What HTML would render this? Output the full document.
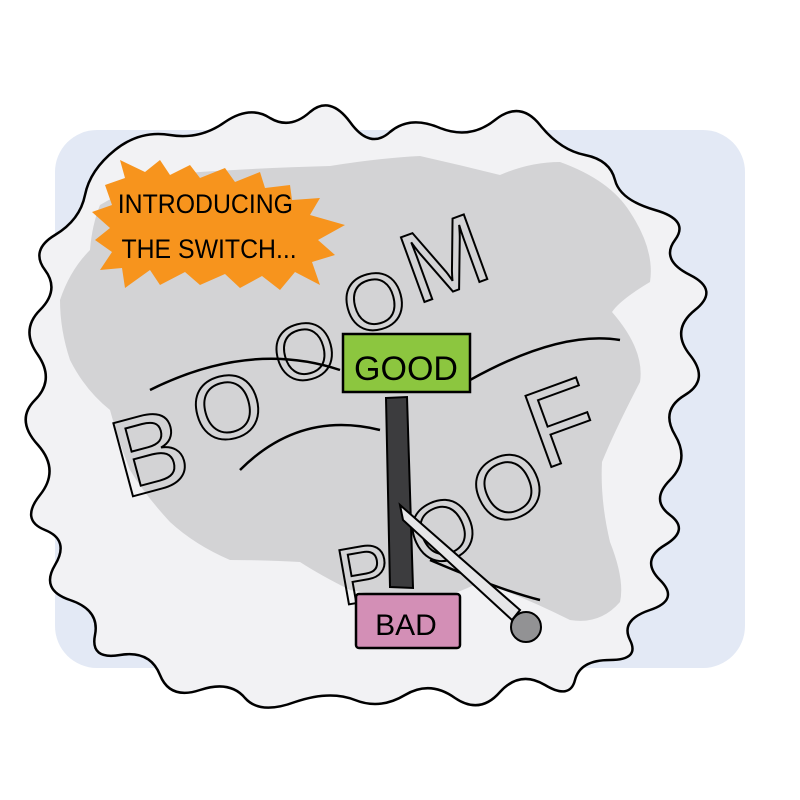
<!DOCTYPE html>
<html><head><meta charset="utf-8"><style>body{margin:0;background:#fff}svg{display:block}</style></head><body>
<svg width="800" height="800" viewBox="0 0 800 800" xmlns="http://www.w3.org/2000/svg">
<rect x="55" y="130" width="690" height="538" rx="42" fill="#e3e9f5"/>
<path fill="#f2f2f4" stroke="#000" stroke-width="2.5" d="M85,195 Q90,170 115,150 Q140,130 170,135 Q200,140 225,122 Q250,105 270,118 Q290,130 310,112 Q330,95 350,122 Q370,150 390,132 Q410,115 440,128 Q470,140 495,120 Q520,100 540,125 Q560,150 585,155 Q610,160 615,180 Q620,200 655,210 Q690,220 675,240 Q660,260 690,275 Q720,290 695,310 Q670,330 690,355 Q710,380 685,395 Q660,410 675,435 Q690,460 670,480 Q650,500 670,515 Q690,530 665,545 Q640,560 660,580 Q680,600 650,610 Q620,620 630,640 Q640,660 610,660 Q580,660 575,680 Q570,700 545,685 Q520,670 500,692 Q480,715 455,698 Q430,680 405,695 Q380,710 355,700 Q330,690 295,702 Q260,715 245,698 Q230,680 200,690 Q170,700 160,675 Q150,650 120,655 Q90,660 95,635 Q100,610 70,600 Q40,590 55,565 Q70,540 45,530 Q20,520 40,495 Q60,470 38,445 Q15,420 35,400 Q55,380 38,355 Q20,330 40,310 Q60,290 45,270 Q30,250 55,235 Q80,220 85,195Z"/>
<path fill="#d3d3d5" d="M100,205 Q150,175 200,172 Q260,168 330,166 Q380,158 420,156 Q460,165 500,175 Q530,162 560,162 Q610,180 630,212 Q655,250 650,282 Q620,300 612,312 Q645,350 640,382 Q615,430 602,462 Q600,500 610,542 Q625,580 620,602 Q600,625 570,620 Q520,595 480,582 Q455,595 430,600 Q390,598 350,590 Q320,575 300,562 Q260,560 230,560 Q195,545 170,522 Q145,495 130,470 Q118,440 110,410 Q85,390 70,360 Q60,330 60,300 Q70,270 90,250 Q92,225 100,205Z"/>
<path fill="#f7941d" d="M105,185 L125,178 L120,160 L145,172 L160,160 L170,175 L190,165 L200,178 L225,168 L235,182 L260,172 L265,188 L290,185 L292,200 L320,198 L310,215 L345,225 L318,240 L335,255 L312,262 L320,285 L295,272 L280,290 L262,276 L240,288 L225,274 L200,285 L185,272 L160,285 L150,270 L125,288 L122,268 L100,270 L112,252 L95,240 L110,228 L92,212 L112,205Z"/>
<g font-family="Liberation Sans, sans-serif" font-size="27" fill="#000" transform="scale(0.92,1)">
<text x="128" y="213">INTRODUCING</text>
<text x="132" y="258">THE SWITCH...</text>
</g>
<g fill="none" stroke="#000" stroke-width="2.5">
<path d="M150,390 Q250,340 340,370"/>
<path d="M240,470 Q300,410 380,430"/>
<path d="M470,380 Q560,330 620,340"/>
<path d="M430,560 Q500,590 540,600"/>
</g>
<g font-family="Liberation Sans, sans-serif" fill="none" stroke="#000" stroke-width="2">
<text x="110" y="490" font-size="110" transform="rotate(-15 150 440)">B</text>
<text x="190" y="440" font-size="90" transform="rotate(-15 220 400)">O</text>
<text x="270" y="380" font-size="80" transform="rotate(-15 300 340)">O</text>
<text x="340" y="330" font-size="80" transform="rotate(-15 370 290)">O</text>
<text x="400" y="290" font-size="100" transform="rotate(-20 450 250)">M</text>
<text x="335" y="600" font-size="80" transform="rotate(-10 370 560)">P</text>
<text x="405" y="560" font-size="85" transform="rotate(-25 440 520)">O</text>
<text x="465" y="520" font-size="90" transform="rotate(-25 500 470)">O</text>
<text x="520" y="460" font-size="110" transform="rotate(-20 560 400)">F</text>
</g>
<rect x="343" y="334" width="127" height="58" fill="#8cc63f" stroke="#000" stroke-width="2.5"/>
<text x="406" y="380" text-anchor="middle" font-family="Liberation Sans, sans-serif" font-size="34" fill="#000">GOOD</text>
<path d="M386,398 L407,397 L413,588 L390,587Z" fill="#3c3c3e" stroke="#000" stroke-width="2"/>
<path d="M400,505 L403,520 L512,620 L520,610 Z" fill="#e6e6e8" stroke="#000" stroke-width="2"/>
<circle cx="526" cy="627" r="15" fill="#929294" stroke="#000" stroke-width="2"/>
<rect x="356" y="594" width="104" height="54" rx="3" fill="#d38fb6" stroke="#000" stroke-width="2.5"/>
<text x="406" y="635" text-anchor="middle" font-family="Liberation Sans, sans-serif" font-size="30" fill="#000">BAD</text>
</svg>
</body></html>
